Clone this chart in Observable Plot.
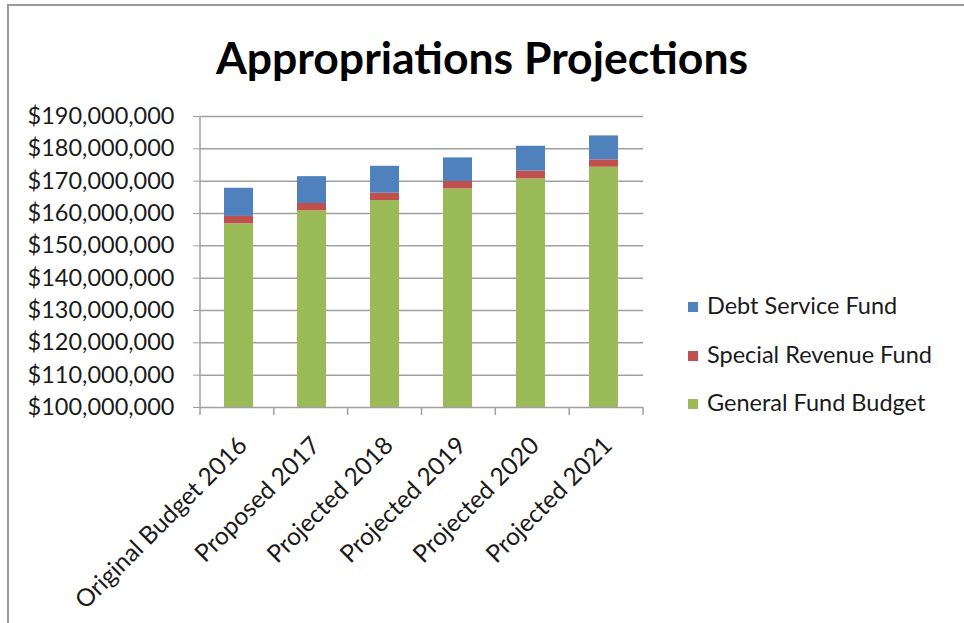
<!DOCTYPE html>
<html>
<head>
<meta charset="utf-8">
<script src="https://cdn.jsdelivr.net/npm/d3@7"></script>
<script src="https://cdn.jsdelivr.net/npm/@observablehq/plot@0.6"></script>
<style>
  html, body { margin: 0; padding: 0; background: #fff; }
  #chart { position: relative; width: 964px; height: 623px; overflow: hidden; font-family: Lato, "Open Sans", sans-serif; }
  #frame { position: absolute; left: 7px; top: 4px; right: -10px; bottom: -10px; border-left: 2px solid #9a9a9a; border-top: 2px solid #9a9a9a; }
  #title { position: absolute; left: 0; top: 0; width: 964px; height: 100px; text-align: center; font-family: Lato, sans-serif; font-weight: bold; font-size: 44.5px; line-height: 114px; color: #000; }
  #plot { position: absolute; left: 0; top: 100px; }
  #legend { position: absolute; left: 688px; top: 291px; font-family: Lato, sans-serif; font-size: 23.5px; color: #1a1a1a; }
  .item { height: 48.5px; display: flex; align-items: flex-start; }
  .sw { width: 10px; height: 10px; margin-right: 9px; margin-top: 11px; }
</style>
</head>
<body>
<div id="chart">
  <div id="frame"></div>
  <div id="title">Appropriations Projections</div>
  <div id="plot"></div>
  <div id="legend"></div>
</div>
<script>
const categories = ["Original Budget 2016", "Proposed 2017", "Projected 2018", "Projected 2019", "Projected 2020", "Projected 2021"];
const seriesNames = ["General Fund Budget", "Special Revenue Fund", "Debt Service Fund"];
const generalFund = [156800000, 160800000, 164000000, 167600000, 170700000, 174300000];
const specialRevenue = [2300000, 2300000, 2300000, 2300000, 2400000, 2300000];
const debtService = [8700000, 8300000, 8300000, 7300000, 7700000, 7400000];
const colors = ["#9BBB59", "#C0504D", "#4F81BD"];
const yTicks = [100000000, 110000000, 120000000, 130000000, 140000000, 150000000, 160000000, 170000000, 180000000, 190000000];
const legendOrder = ["Debt Service Fund", "Special Revenue Fund", "General Fund Budget"];

const seriesValues = [generalFund, specialRevenue, debtService];
const rows = [];
categories.forEach((c, i) => {
  let base = 0;
  seriesNames.forEach((s, k) => {
    const v = seriesValues[k][i];
    rows.push({category: c, series: s, y1: base, y2: base + v});
    base += v;
  });
});

const W = 964, H = 523, mL = 200, mR = 321, mT = 16, mB = 216;
const gray = "#a0a0a0";
const yMin = yTicks[0];

const plot = Plot.plot({
  width: W, height: H,
  marginLeft: mL, marginRight: mR, marginTop: mT, marginBottom: mB,
  style: {fontFamily: "Lato, sans-serif", fontSize: "24px", color: "#1a1a1a", background: "transparent"},
  x: {domain: categories, paddingInner: 0.6, paddingOuter: 0.3, align: 0.5},
  y: {domain: [yMin, yTicks[yTicks.length - 1]]},
  color: {domain: seriesNames, range: colors},
  marks: [
    Plot.ruleY(yTicks.slice(1), {stroke: gray, strokeWidth: 1.5}),
    Plot.rectY(rows, {x: "category", y1: d => Math.max(d.y1, yMin), y2: "y2", fill: "series"}),
    Plot.ruleY([yMin], {stroke: gray, strokeWidth: 1.5}),
    Plot.axisY({ticks: yTicks, tickFormat: d3.format("$,"), tickSize: 7, tickPadding: 19, stroke: gray, fontSize: 23.5, label: null}),
    Plot.axisX({tickRotate: -45, tickSize: 0, tickPadding: 34, dx: 4, fontSize: 24.5, label: null})
  ]
});

// axis line and Excel-style category boundary ticks, positioned from the scales
const xs = plot.scale("x");
const ys = plot.scale("y");
const svg = d3.select(plot);
const yBottom = ys.apply(yMin);
const yTop = ys.apply(yTicks[yTicks.length - 1]);
const r0 = xs.range[0], r1 = xs.range[1];
const stepW = (r1 - r0) / categories.length;
const bounds = d3.range(categories.length + 1).map(i => r0 + i * stepW);
const g = svg.append("g").attr("stroke", gray).attr("stroke-width", 1.5);
g.append("line").attr("x1", r0).attr("x2", r0).attr("y1", yTop).attr("y2", yBottom + 8);
g.selectAll("line.b").data(bounds.slice(1)).join("line").attr("class", "b")
  .attr("x1", d => d).attr("x2", d => d).attr("y1", yBottom).attr("y2", yBottom + 8);

document.getElementById("plot").appendChild(plot);

const legend = document.getElementById("legend");
legendOrder.forEach(name => {
  const item = document.createElement("div");
  item.className = "item";
  const sw = document.createElement("div");
  sw.className = "sw";
  sw.style.background = colors[seriesNames.indexOf(name)];
  const t = document.createElement("span");
  t.textContent = name;
  item.appendChild(sw);
  item.appendChild(t);
  legend.appendChild(item);
});
</script>
</body>
</html>
